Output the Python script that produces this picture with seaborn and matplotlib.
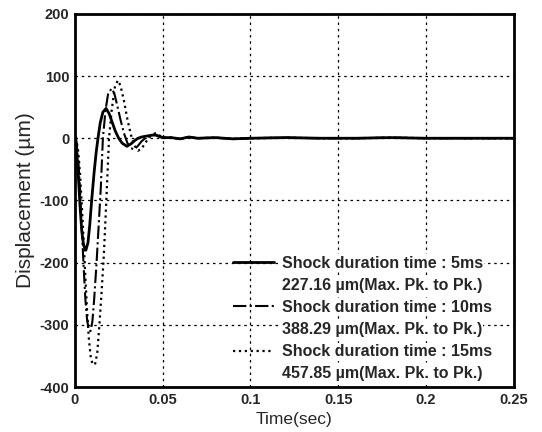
import numpy as np
import pandas as pd
import matplotlib
matplotlib.use("Agg")
import matplotlib.pyplot as plt
from matplotlib.lines import Line2D
import seaborn as sns

# values (time in sec, displacement in um)
t_5ms = [0.0, 0.0005, 0.001, 0.002, 0.003, 0.004, 0.005, 0.0063, 0.0075, 0.0085, 0.0096,
         0.011, 0.0122, 0.0132, 0.0145, 0.016, 0.0178, 0.0195, 0.021, 0.023, 0.025, 0.027,
         0.0297, 0.032, 0.034, 0.036, 0.038, 0.040, 0.042, 0.044, 0.046, 0.048, 0.050]
d_5ms = [0, 3, -15, -60, -110, -150, -172, -180, -168, -140, -100,
         -55, -22, 0, 25, 42, 48, 40, 28, 12, 0, -8,
         -13, -9, -4, 0, 2, 3, 4, 5, 5, 3, 1]

t_10ms = [0.0, 0.001, 0.002, 0.003, 0.004, 0.005, 0.006, 0.007, 0.008, 0.009, 0.010,
          0.011, 0.0124, 0.0135, 0.0148, 0.016, 0.0175, 0.019, 0.021, 0.0225, 0.024,
          0.026, 0.028, 0.030, 0.032, 0.034, 0.036, 0.038, 0.040, 0.042, 0.044, 0.046,
          0.048, 0.050]
d_10ms = [0, -8, -35, -85, -145, -205, -258, -292, -308, -310, -295,
          -260, -200, -145, -80, 0, 45, 72, 80, 72, 55,
          30, 8, -8, -16, -18, -12, -5, 0, 3, 5, 6,
          3, 1]

t_15ms = [0.0, 0.001, 0.002, 0.003, 0.004, 0.005, 0.006, 0.007, 0.008, 0.009, 0.010,
          0.0115, 0.0128, 0.014, 0.0152, 0.0165, 0.0178, 0.0195, 0.021, 0.0228, 0.0245,
          0.026, 0.028, 0.030, 0.032, 0.034, 0.036, 0.038, 0.040, 0.042, 0.044, 0.046,
          0.048, 0.050]
d_15ms = [0, -4, -22, -58, -108, -162, -222, -278, -322, -350, -362,
          -364, -345, -300, -250, -190, -110, 0, 45, 82, 93,
          85, 60, 30, 5, -12, -20, -17, -8, 0, 6, 8,
          5, 1]

t_tail = [0.055, 0.060, 0.065, 0.070, 0.080, 0.090, 0.100, 0.120, 0.140, 0.160,
          0.180, 0.200, 0.220, 0.250]
d_tail = [1, -1, 2, 0, 1, -1, 0, 1, 0, 0, 1, 0, 0, 0]

series_names = ["Shock duration time : 5ms", "Shock duration time : 10ms",
                "Shock duration time : 15ms"]
pk_labels = ["227.16 \u00b5m(Max. Pk. to Pk.)", "388.29 \u00b5m(Max. Pk. to Pk.)",
             "457.85 \u00b5m(Max. Pk. to Pk.)"]

x_ticks = [0, 0.05, 0.1, 0.15, 0.2, 0.25]
x_tick_labels = ["0", "0.05", "0.1", "0.15", "0.2", "0.25"]
y_ticks = [-400, -300, -200, -100, 0, 100, 200]

sns.set_style("white")
plt.rcParams["font.family"] = ["Liberation Sans", "DejaVu Sans"]
plt.rcParams["axes.unicode_minus"] = False

frames = []
for name, t, d in zip(series_names,
                      [t_5ms, t_10ms, t_15ms],
                      [d_5ms, d_10ms, d_15ms]):
    frames.append(pd.DataFrame({"time": t + t_tail, "disp": d + d_tail, "series": name}))
df = pd.concat(frames, ignore_index=True)

styles = [dict(ls="-", lw=2.0), dict(ls="-.", lw=1.5), dict(ls=":", lw=1.6)]

fig = plt.figure(figsize=(5.42, 4.32), dpi=100)
ax = fig.add_axes([0.138, 0.104, 0.810, 0.864])

for name, st in zip(series_names, styles):
    sns.lineplot(data=df[df["series"] == name], x="time", y="disp", ax=ax,
                 color="black", estimator=None, sort=False, **st)

ax.set_xlim(0, 0.25)
ax.set_ylim(-400, 200)
ax.set_xticks(x_ticks)
ax.set_xticklabels(x_tick_labels)
ax.set_yticks(y_ticks)
ax.grid(True, color="black", ls=(0, (2, 3)), lw=0.9)
ax.tick_params(direction="in", length=4, width=1.2, labelsize=10.5, pad=4)
for lab in ax.get_xticklabels() + ax.get_yticklabels():
    lab.set_fontweight("bold")
for sp in ax.spines.values():
    sp.set_color("black")
    sp.set_linewidth(2.0)

ax.set_xlabel("Time(sec)", fontsize=12.5, labelpad=4)
ax.set_ylabel("Displacement (\u00b5m)", fontsize=15, labelpad=3)

blank = Line2D([], [], color="none")
handles, labels = [], []
for name, pk, st in zip(series_names, pk_labels, styles):
    handles += [Line2D([], [], color="black", **st), blank]
    labels += [name, pk]
leg = ax.legend(handles, labels, loc="lower left", frameon=False,
                prop={"weight": "bold", "size": 11.5}, handlelength=2.6,
                handletextpad=0.45, labelspacing=0.45, borderpad=0.0,
                borderaxespad=0.0, bbox_to_anchor=(0.36, 0.015))
for txt in leg.get_texts():
    txt.set_bbox(dict(facecolor="white", edgecolor="none", pad=1))

fig.savefig("out.png", dpi=100)
